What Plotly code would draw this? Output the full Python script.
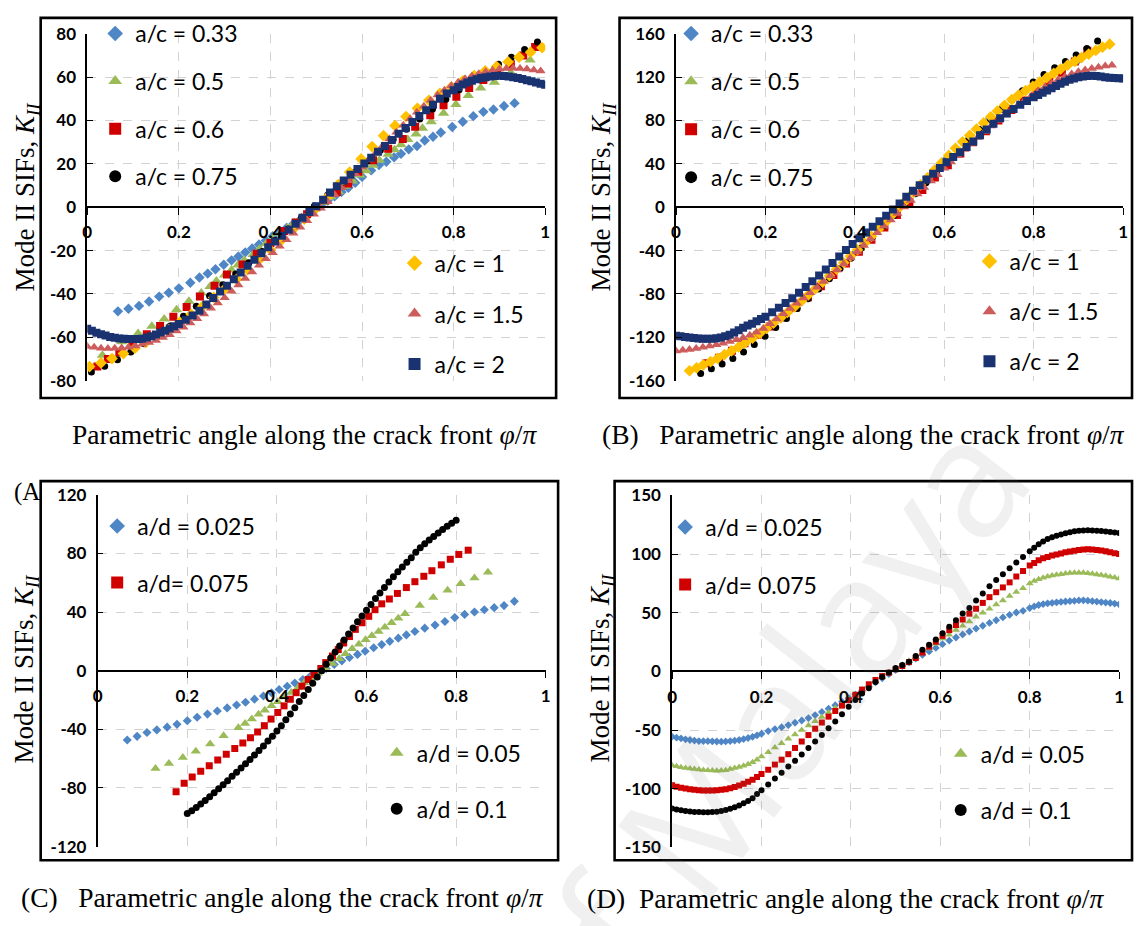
import plotly.graph_objects as go

W, H = 1139, 926

# ---------------------------------------------------------------- data
# shared abscissae (phi/pi)
X_FINE = [0, 0.01, 0.02, 0.03, 0.04, 0.05, 0.06, 0.07, 0.08, 0.09, 0.1, 0.11, 0.12, 0.13, 0.14, 0.15, 0.16, 0.17, 0.18, 0.19, 0.2,
          0.215, 0.23, 0.245, 0.26, 0.275, 0.29, 0.305, 0.32, 0.335, 0.35, 0.365, 0.38, 0.395, 0.41, 0.425, 0.44, 0.455, 0.47, 0.485,
          0.5, 0.515, 0.53, 0.545, 0.56, 0.575, 0.59, 0.605, 0.62, 0.635, 0.65, 0.665, 0.68, 0.695, 0.71, 0.725, 0.74, 0.755, 0.77, 0.785,
          0.8, 0.81, 0.82, 0.83, 0.84, 0.85, 0.86, 0.87, 0.88, 0.89, 0.9, 0.91, 0.92, 0.93, 0.94, 0.95, 0.96, 0.97, 0.98, 0.99, 1.0]
X_TRI = [0, 0.015, 0.03, 0.045, 0.06, 0.075, 0.09, 0.105, 0.12, 0.135, 0.15, 0.165, 0.18, 0.195, 0.21, 0.225, 0.24, 0.255, 0.27,
         0.285, 0.3, 0.315, 0.33, 0.345, 0.36, 0.375, 0.39, 0.405, 0.42, 0.435, 0.45, 0.465, 0.48, 0.495, 0.51, 0.525, 0.54, 0.555,
         0.57, 0.585, 0.6, 0.615, 0.63, 0.645, 0.66, 0.675, 0.69, 0.705, 0.72, 0.735, 0.75, 0.765, 0.78, 0.795, 0.81, 0.825, 0.84,
         0.855, 0.87, 0.885, 0.9, 0.915, 0.93, 0.945, 0.96, 0.975, 0.99]

# ---- panel A (a/c) ----
A_X_033 = [0.067, 0.09, 0.113, 0.135, 0.157, 0.178, 0.2, 0.225, 0.245, 0.263, 0.28, 0.298, 0.315, 0.33, 0.345, 0.36, 0.375, 0.39,
           0.405, 0.42, 0.435, 0.45, 0.465, 0.48, 0.495, 0.51, 0.525, 0.54, 0.555, 0.57, 0.585, 0.6, 0.62, 0.637, 0.653, 0.67,
           0.685, 0.702, 0.72, 0.737, 0.755, 0.772, 0.797, 0.82, 0.843, 0.865, 0.887, 0.91, 0.933]
A_Y_033 = [-48, -46.8, -45.5, -43.5, -41.2, -39.4, -37.4, -34.8, -32.4, -30.6, -28.6, -26.5, -24.5, -22.7, -20.8, -19, -17.2, -15.3,
           -13.4, -11.5, -9.6, -7.7, -5.8, -3.9, -1.5, 0.8, 3, 5, 7, 9, 11.3, 14, 17, 19.5, 21, 23,
           24.7, 26.7, 28.2, 30.8, 32.5, 34.5, 37, 39.4, 42, 44, 45.1, 46.7, 48]
A_X_05 = [0.033, 0.075, 0.111, 0.141, 0.168, 0.195, 0.222, 0.249, 0.268, 0.282, 0.3, 0.315, 0.329, 0.343, 0.362, 0.376, 0.391,
          0.405, 0.421, 0.437, 0.452, 0.468, 0.485, 0.5, 0.515, 0.532, 0.548, 0.563, 0.579, 0.595, 0.609, 0.624, 0.638, 0.657,
          0.671, 0.685, 0.7, 0.718, 0.732, 0.751, 0.778, 0.805, 0.832, 0.859, 0.889, 0.925, 0.967]
A_Y_05 = [-68.3, -62, -58.2, -54.9, -51.5, -47.3, -43.4, -39.5, -36.5, -34, -31.3, -28.9, -26.6, -24.4, -21.8, -19.3, -16.7,
          -14.5, -12, -9.6, -7.2, -4.8, -2.4, 0, 2.3, 4.8, 7.3, 9.7, 12.1, 14.9, 16.8, 19.4, 21.7, 24.4,
          26.5, 28.8, 31.2, 33.8, 36.4, 39.4, 43.3, 47.4, 51.5, 55, 57.6, 62, 67.9]
A_X_06 = [0.022, 0.045, 0.07, 0.1, 0.13, 0.159, 0.188, 0.217, 0.246, 0.278, 0.305, 0.339, 0.37, 0.4, 0.43, 0.455, 0.48, 0.5,
          0.52, 0.545, 0.57, 0.592, 0.624, 0.657, 0.689, 0.716, 0.749, 0.778, 0.806, 0.834, 0.865, 0.895, 0.925, 0.952, 0.978]
A_Y_06 = [-73.5, -70, -67, -62.5, -58.6, -54.8, -50.5, -46, -41.2, -36.2, -31, -26.4, -21.5, -16.5, -11, -7, -3.2, 0,
          3.2, 7, 11, 16.4, 21.7, 27, 31.5, 37.1, 42.4, 47, 51, 55, 58.7, 62.5, 66, 70, 73.9]
A_X_075 = [0.009, 0.038, 0.066, 0.095, 0.124, 0.152, 0.181, 0.21, 0.238, 0.267, 0.296, 0.324, 0.353, 0.382, 0.41, 0.439, 0.468,
           0.496, 0.525, 0.554, 0.582, 0.611, 0.64, 0.668, 0.697, 0.726, 0.754, 0.783, 0.812, 0.84, 0.869, 0.898, 0.926, 0.955, 0.983]
A_Y_075 = [-76, -73.3, -70.3, -66.8, -63, -59, -54.8, -50.3, -45.6, -40.8, -35.8, -30.8, -25.6, -20.4, -15.2, -10, -4.6,
           0.6, 5.7, 10.9, 16, 21.2, 26.3, 31.2, 36, 40.7, 45.3, 49.8, 54.2, 58.3, 62.2, 65.9, 69.2, 72.7, 76.2]
A_X_1 = [0.005, 0.03, 0.054, 0.079, 0.104, 0.128, 0.153, 0.178, 0.202, 0.227, 0.252, 0.276, 0.301, 0.326, 0.35, 0.375, 0.4,
         0.425, 0.449, 0.474, 0.499, 0.524, 0.548, 0.573, 0.598, 0.622, 0.647, 0.672, 0.696, 0.721, 0.746, 0.77, 0.795, 0.82,
         0.845, 0.869, 0.894, 0.919, 0.943, 0.968, 0.993]
A_Y_1 = [-73.5, -71.8, -69.8, -67.5, -65, -62.3, -59.4, -56.3, -53, -49.4, -45.6, -41.6, -37.5, -33.2, -28.8, -24.3, -19.7,
         -15, -10.3, -5.5, -0.7, 4.6, 10.5, 16.2, 22.3, 28, 33, 37.6, 41.8, 45.6, 49.3, 52.5, 55.5, 58.3,
         60.7, 62.9, 64.9, 67, 69.2, 71.5, 73.6]
A_Y_15 = [-64.2, -64.6, -65, -65.1, -65, -64.9, -64.6, -64, -63.2, -62.4, -61.4, -60.1, -58.8, -57.1, -55.3, -53.4, -51.4, -49.2,
          -46.6, -44.2, -41.7, -38.7, -35.9, -32.9, -29.9, -26.7, -23.7, -21, -18, -15, -12, -9.2, -6.2, -3.2, -0.5, 2.5, 5.8,
          9, 12.2, 15.4, 18.6, 21.8, 25, 28.2, 31.5, 34.6, 37.8, 40.8, 43.8, 46.6, 49.3, 51.8, 54, 56, 57.7, 59.2, 60.5, 61.6,
          62.5, 63.2, 63.7, 64, 64.1, 64, 63.7, 63.3, 62.8]
A_Y_2 = [-56, -57, -57.9, -58.6, -59.2, -59.8, -60.2, -60.5, -60.7, -60.8, -60.8, -60.8, -60.6, -60.1, -59.5, -58.7, -57.8, -56.9, -55.9, -54.9, -53.8,
         -51.9, -49.9, -47.7, -44.8, -41.8, -38.9, -36.2, -33.2, -30.1, -27, -24.2, -21.2, -18.4, -15.8, -13.1, -10.4, -7.6, -4.9, -2.2,
         0.5, 3.4, 6.8, 9.7, 12.3, 15, 17.6, 20.2, 22.8, 25.6, 28.3, 31, 33.9, 36.6, 39.3, 42.1, 44.7, 47.3, 50, 52.4,
         54, 55.4, 56.6, 57.5, 58.3, 59, 59.6, 60, 60.3, 60.5, 60.6, 60.5, 60.3, 60, 59.6, 59.1, 58.6, 58.1, 57.5, 57, 56.5]

# ---- panel B (a/c) ----
B_X_033 = [0.1, 0.2, 0.3, 0.4, 0.5, 0.6, 0.7, 0.8, 0.9]
B_Y_033 = [-137.5, -112.5, -79.5, -41.5, 0, 43.5, 82, 112, 135]
B_X_05 = [0.15, 0.25, 0.35, 0.45, 0.55, 0.65, 0.75, 0.85]
B_Y_05 = [-126.2, -96.7, -60.6, -21.5, 21.9, 63.5, 99, 124.7]
B_X_06 = [0.068, 0.096, 0.125, 0.153, 0.182, 0.21, 0.238, 0.267, 0.295, 0.324, 0.352, 0.38, 0.409, 0.437, 0.466, 0.494,
          0.522, 0.551, 0.579, 0.608, 0.636, 0.664, 0.693, 0.721, 0.75, 0.778, 0.806, 0.835, 0.863, 0.892, 0.92]
B_Y_06 = [-143.8, -138.8, -132.3, -125.5, -117.8, -110, -101.7, -92.6, -83, -72.8, -62.5, -52, -41, -30, -18.6, -7.2,
          4.5, 16, 27.5, 38.8, 49.6, 60, 70.2, 80, 89.6, 98.5, 107, 115.5, 124, 134.5, 144.4]
B_X_075 = [0.055, 0.079, 0.103, 0.127, 0.151, 0.175, 0.199, 0.223, 0.247, 0.271, 0.295, 0.319, 0.343, 0.367, 0.391, 0.415,
           0.439, 0.463, 0.487, 0.511, 0.535, 0.559, 0.583, 0.607, 0.631, 0.655, 0.679, 0.703, 0.727, 0.751, 0.775, 0.799,
           0.823, 0.847, 0.871, 0.895, 0.919, 0.943]
B_Y_075 = [-153.4, -148.9, -144.5, -139.5, -133.5, -126.5, -119, -111, -102.5, -93.5, -84.5, -75.5, -66, -56.5, -47, -37.3,
           -27.5, -17.5, -7.5, 2.5, 12.5, 22.6, 32.5, 42.5, 52.3, 62, 71.6, 81, 90.2, 99, 107.5, 115.5,
           122.5, 128.6, 134.5, 140.5, 146.5, 153.4]
B_X_1 = [0.03, 0.046, 0.061, 0.077, 0.093, 0.108, 0.124, 0.14, 0.155, 0.171, 0.187, 0.202, 0.218, 0.234, 0.249, 0.265, 0.281,
         0.296, 0.312, 0.328, 0.343, 0.359, 0.375, 0.39, 0.406, 0.422, 0.437, 0.453, 0.469, 0.484, 0.5, 0.516, 0.531, 0.547,
         0.563, 0.578, 0.594, 0.61, 0.625, 0.641, 0.657, 0.672, 0.688, 0.704, 0.719, 0.735, 0.751, 0.766, 0.782, 0.798, 0.813,
         0.829, 0.845, 0.86, 0.876, 0.892, 0.907, 0.923, 0.939, 0.954, 0.97]
B_Y_1 = [-150.8, -148.1, -145.3, -142.4, -139.3, -136, -132.5, -128.8, -125, -120.8, -116.4, -111.8, -107, -102, -97, -91.8, -86.4,
         -80.8, -75, -69, -63.2, -57.2, -51.2, -45.2, -39.2, -33, -26.8, -20.3, -13.6, -6.8, 0, 6.8, 13.7, 20.6,
         27.4, 34.2, 41, 47.8, 54.3, 60.3, 66.3, 72, 77.8, 83.4, 88.7, 94, 99.3, 103.5, 107.6, 111.5, 115.4,
         119.5, 123.5, 127.3, 131, 134.6, 138, 141.3, 144.6, 147.6, 150.4]
B_X_15 = X_TRI[:66]
B_Y_15 = [-132.5, -132, -131.2, -130.3, -129.2, -128, -126.8, -125.4, -123.9, -122.2, -120.3, -118, -115.3, -111.8, -107.5, -103,
          -98.3, -93.5, -88.6, -83.7, -78.8, -73.7, -68.5, -63.2, -57.8, -52.3, -46.7, -41, -35.2, -29.4, -23.6, -17.6, -11.7,
          -5.7, 0.3, 6.2, 12.2, 18.2, 24.1, 30, 35.9, 41.7, 47.5, 53.2, 58.8, 64.3, 69.7, 75, 80.1, 85, 89.8, 94.4, 98.7,
          102.8, 107.2, 110.8, 114.3, 117.5, 120.4, 122.9, 125, 126.6, 128, 129.2, 130.2, 131]
B_Y_2 = [-118.5, -119, -119.6, -120.1, -120.6, -121, -121.3, -121.4, -121.3, -120.9, -120.2, -119, -117.5, -115.6, -113.5, -111.2, -109.1, -107.5, -105.2, -103, -101,
         -96.8, -92.6, -88.4, -83.9, -78.8, -73.5, -68.2, -63, -57.4, -51.5, -45.5, -39.5, -34, -28.6, -23.3, -18, -13, -7.8, -2,
         3.4, 9.6, 15.2, 20.4, 25.5, 30.8, 36.2, 41.5, 46.3, 50.8, 55.5, 60.7, 66.4, 71.7, 76.9, 82, 86.4, 90.6, 94.5, 98.1,
         101.5, 103.6, 105.6, 107.6, 109.7, 111.8, 113.8, 115.8, 117.5, 118.8, 119.8, 120.5, 121, 121.2, 121.1, 120.6, 119.9, 119.4, 119.1, 118.9, 118.7]

# ---- panel C (a/d) ----
C_X_0025 = [0.066, 0.088, 0.11, 0.132, 0.155, 0.177, 0.2, 0.222, 0.245, 0.267, 0.289, 0.31, 0.33, 0.35, 0.37, 0.388, 0.405,
            0.423, 0.44, 0.458, 0.475, 0.492, 0.51, 0.528, 0.545, 0.562, 0.58, 0.597, 0.616, 0.634, 0.652, 0.671, 0.689, 0.708,
            0.73, 0.753, 0.775, 0.797, 0.819, 0.841, 0.863, 0.885, 0.907, 0.93]
C_Y_0025 = [-47.3, -44.8, -42.2, -40.4, -38.5, -36.6, -34.2, -31.8, -29.6, -27.5, -25.4, -23.4, -21.5, -19.4, -17.3, -15, -12.8,
            -10.6, -8.4, -6, -3.7, -1.5, 1.5, 4.2, 6.7, 9, 11.1, 13.3, 15.6, 17.8, 20, 22.2, 24.4, 26.7,
            29, 31.1, 33.6, 36.2, 38.4, 40, 41.6, 43, 44.4, 47.3]
C_X_005 = [0.129, 0.159, 0.19, 0.219, 0.251, 0.281, 0.314, 0.329, 0.344, 0.359, 0.373, 0.388, 0.402, 0.417, 0.432, 0.447, 0.461,
           0.476, 0.491, 0.509, 0.524, 0.539, 0.553, 0.568, 0.583, 0.598, 0.612, 0.627, 0.641, 0.656, 0.671, 0.686, 0.719, 0.749,
           0.781, 0.81, 0.841, 0.871]
C_Y_005 = [-66.7, -63.3, -59.3, -54.9, -50, -44.4, -39, -36, -33, -29.8, -27, -24, -21.2, -18, -14.8, -11.6, -8.3,
           -5, -1.8, 1.5, 4.9, 8.2, 11.5, 14.9, 18, 21.1, 23.9, 26.7, 29.7, 32.7, 35.8, 38.9, 44.4, 50,
           54.9, 59.3, 63.3, 67.1]
C_X_0075 = [0.175, 0.193, 0.211, 0.23, 0.249, 0.268, 0.287, 0.306, 0.324, 0.341, 0.357, 0.372, 0.387, 0.402, 0.416, 0.43, 0.443,
            0.456, 0.47, 0.483, 0.498, 0.509, 0.524, 0.537, 0.549, 0.562, 0.575, 0.59, 0.605, 0.619, 0.634, 0.651, 0.669, 0.689,
            0.708, 0.728, 0.746, 0.767, 0.787, 0.806, 0.827]
C_Y_0075 = [-82.5, -76.8, -72.5, -68.6, -64.8, -61, -57, -53, -49.3, -45.8, -41.8, -37.5, -33, -28.5, -24, -19.5, -15,
            -10.5, -6, -2.5, 1.5, 5.5, 10, 14.4, 18.9, 23.3, 28.2, 32.7, 37.1, 41.6, 45.6, 48.9, 52.7, 56.7,
            60.7, 64.4, 68.2, 72.2, 76, 79.3, 82.2]
C_X_01 = [0.2, 0.21, 0.22, 0.23, 0.24, 0.25, 0.26, 0.27, 0.28, 0.29, 0.3, 0.31, 0.32, 0.33, 0.34, 0.35, 0.36, 0.37, 0.38, 0.39,
          0.4, 0.41, 0.42, 0.43, 0.44, 0.45, 0.46, 0.47, 0.48, 0.49, 0.5, 0.51, 0.52, 0.53, 0.54, 0.55, 0.56, 0.57, 0.58, 0.59,
          0.6, 0.61, 0.62, 0.63, 0.64, 0.65, 0.66, 0.67, 0.68, 0.69, 0.7, 0.71, 0.72, 0.73, 0.74, 0.75, 0.76, 0.77, 0.78, 0.79, 0.8]
C_Y_01 = [-97.5, -95.5, -93.3, -91, -88.6, -86, -83.3, -80.6, -77.8, -75, -72, -69.2, -66.3, -63.5, -60.5, -57.5, -54.5, -51.3,
          -48, -44.7, -41.2, -37.5, -33.5, -29.5, -25.3, -21.1, -17, -12.9, -8.6, -4.3, 0, 4.4, 8.6, 12.7, 16.8, 20.9, 25, 29.2,
          33.3, 37.3, 41.2, 45.2, 49.2, 53, 56.8, 60.5, 64, 67.5, 70.8, 74, 77, 80.8, 83.8, 86.6, 89.2, 91.6, 94, 96.3,
          98.5, 100.6, 102.6]

# ---- panel D (a/d) ----
D_Y_0025 = [-55.7, -56.5, -57.2, -57.9, -58.5, -59, -59.4, -59.5, -59.5, -59.6, -59.8, -59.9, -59.7, -59.4, -59, -58.5, -57.7, -56.8, -55.8, -54.5, -53.2,
            -50.9, -49.2, -47.6, -45.8, -43.8, -41.9, -39.8, -37.3, -34.6, -31.8, -28.9, -25.9, -22.8, -19.6, -16.3, -12.9, -9.4, -5.9, -2.4,
            1.1, 4.5, 7.7, 10.9, 14, 17, 20, 23.2, 26.3, 28.9, 31.5, 34, 36.5, 38.9, 41.3, 43.6, 46, 48.2, 50.2, 51.6,
            54, 55.4, 56.6, 57.4, 58, 58.4, 58.9, 59.2, 59.6, 59.9, 60.2, 60.5, 60.6, 60.3, 59.9, 59.5, 59.1, 58.7, 58.3, 57.8, 57.2]
D_Y_005 = [-80, -81, -81.8, -82.4, -82.9, -83.3, -83.7, -84.1, -84.4, -84.6, -84.7, -84.6, -84.2, -83.3, -82.4, -81.5, -80.5, -79.2, -77.4, -75.3, -72.5,
           -69, -65, -61.2, -57.5, -53.8, -50, -46.2, -42.5, -38.8, -35, -31.2, -27.5, -23.8, -20, -16.2, -12.5, -8.8, -5, -1.3,
           2.2, 5.6, 8.9, 12.2, 15.6, 19.5, 23.5, 28, 31.3, 35.2, 38.9, 42.5, 46.6, 49.9, 53.4, 57, 60.5, 64.2, 67.7, 70.8,
           75, 77, 78.5, 79.8, 80.9, 81.8, 82.4, 82.9, 83.4, 83.8, 84.2, 84.2, 84, 83.6, 83.2, 82.6, 82.1, 81.5, 80.7, 80, 79.2]
D_Y_0075 = [-97.2, -98.3, -99.2, -99.9, -100.5, -101, -101.3, -101.5, -101.6, -101.5, -101.4, -101, -100.4, -99.6, -98.6, -97.4, -95.9, -94.2, -92.3, -90, -87.5,
            -83.8, -79.5, -75.3, -70.6, -65.3, -59.8, -54.3, -48.9, -43.6, -38.6, -33.8, -29.2, -24.6, -20, -15.5, -11, -7.3, -4, -1.1,
            1.8, 4.6, 7.9, 11.4, 16.1, 21.1, 25.3, 30.3, 35.2, 39.5, 44.2, 49.2, 53.4, 58.4, 63.3, 67.5, 71.6, 75.9, 80.9, 85.5,
            90.3, 92.5, 94.7, 96.4, 97.6, 98.7, 99.7, 100.6, 101.5, 102.2, 102.8, 103.4, 103.9, 104.2, 104, 103.6, 103, 102.4, 101.6, 100.8, 100]
D_Y_01 = [-117, -117.8, -118.5, -119, -119.5, -119.8, -120, -120.2, -120.2, -120, -119.6, -119, -118.2, -117.2, -115.8, -114.3, -112.5, -110.5, -108.2, -104.5, -101.3,
          -96.5, -91.4, -86.4, -81.1, -76.3, -70.9, -65.3, -59.8, -54.3, -48.4, -42.8, -36.5, -30.2, -24.5, -18.9, -14.3, -9, -4.7, -0.9,
          2.9, 5.5, 8.2, 13.2, 18.4, 22.8, 27.2, 32.6, 38.1, 43.7, 49.3, 54, 60.5, 66.5, 72.5, 77.9, 82.9, 87.9, 92.9, 97.5,
          102.5, 105.5, 108.5, 110.8, 112.8, 114.4, 115.6, 116.8, 117.8, 118.7, 119.4, 119.9, 120.2, 120.3, 120.2, 120, 119.6, 119.2, 118.8, 118.4, 118]

X_TICKS = [0, 0.2, 0.4, 0.6, 0.8, 1]
X_TICKTEXT = ["0", "0.2", "0.4", "0.6", "0.8", "1"]
Y_TICKS_A = [-80, -60, -40, -20, 0, 20, 40, 60, 80]
Y_TICKS_B = [-160, -120, -80, -40, 0, 40, 80, 120, 160]
Y_TICKS_C = [-120, -80, -40, 0, 40, 80, 120]
Y_TICKS_D = [-150, -100, -50, 0, 50, 100, 150]

# ---------------------------------------------------------------- styles
BLUE, GREEN, RED, BLACK = "#4F86C6", "#9BBB59", "#D00000", "#000000"
GOLD, PINK, NAVY = "#FFC000", "#CD5C5C", "#1A3370"

fig = go.Figure()


def add(xs, ys, name, symbol, color, size, ax, leg):
    assert len(xs) == len(ys), (name, len(xs), len(ys))
    fig.add_trace(go.Scatter(
        x=xs, y=ys, mode="markers", name=name,
        marker=dict(symbol=symbol, color=color, size=size, line=dict(width=0)),
        xaxis="x" + ax, yaxis="y" + ax, legend=leg, legendgroup=leg + name,
        showlegend=True, hoverinfo="skip"))


# panel A
add(A_X_033, A_Y_033, "a/c = 0.33", "diamond", BLUE, 8, "", "legend")
add(A_X_05, A_Y_05, "a/c = 0.5", "triangle-up", GREEN, 10, "", "legend")
add(A_X_06, A_Y_06, "a/c = 0.6", "square", RED, 8, "", "legend")
add(A_X_075, A_Y_075, "a/c = 0.75", "circle", BLACK, 7, "", "legend")
add(A_X_1, A_Y_1, "a/c = 1", "diamond", GOLD, 9, "", "legend2")
add(X_TRI, A_Y_15, "a/c = 1.5", "triangle-up", PINK, 9, "", "legend2")
add(X_FINE, A_Y_2, "a/c = 2", "square", NAVY, 8, "", "legend2")
# panel B
add(B_X_033, B_Y_033, "a/c = 0.33", "diamond", BLUE, 6, "2", "legend3")
add(B_X_05, B_Y_05, "a/c = 0.5", "triangle-up", GREEN, 6, "2", "legend3")
add(B_X_06, B_Y_06, "a/c = 0.6", "square", RED, 8, "2", "legend3")
add(B_X_075, B_Y_075, "a/c = 0.75", "circle", BLACK, 7, "2", "legend3")
add(B_X_1, B_Y_1, "a/c = 1", "diamond", GOLD, 9, "2", "legend4")
add(B_X_15, B_Y_15, "a/c = 1.5", "triangle-up", PINK, 9, "2", "legend4")
add(X_FINE, B_Y_2, "a/c = 2", "square", NAVY, 8, "2", "legend4")
# panel C
add(C_X_0025, C_Y_0025, "a/d = 0.025", "diamond", BLUE, 7, "3", "legend5")
add(C_X_005, C_Y_005, "a/d = 0.05", "triangle-up", GREEN, 9, "3", "legend6")
add(C_X_0075, C_Y_0075, "a/d= 0.075", "square", RED, 7, "3", "legend5")
add(C_X_01, C_Y_01, "a/d = 0.1", "circle", BLACK, 7, "3", "legend6")
# panel D
add(X_FINE, D_Y_0025, "a/d = 0.025", "diamond", BLUE, 6, "4", "legend7")
add(X_FINE, D_Y_005, "a/d = 0.05", "triangle-up", GREEN, 7, "4", "legend8")
add(X_FINE, D_Y_0075, "a/d= 0.075", "square", RED, 6, "4", "legend7")
add(X_FINE, D_Y_01, "a/d = 0.1", "circle", BLACK, 6, "4", "legend8")

# ---------------------------------------------------------------- layout
TICKFONT = dict(family="Lato", size=17, color="black", weight="bold")
GRID = "#d2d2d2"

# plot-area pixel boxes: (left, right, top, bottom)
PANELS = {
    "": (83, 545, 23.3, 378.3, Y_TICKS_A),
    "2": (677, 1128, 23.3, 378.3, Y_TICKS_B),
    "3": (93.5, 545.5, 495, 855, Y_TICKS_C),
    "4": (673, 1124, 495.7, 855.7, Y_TICKS_D),
}

layout = dict(width=W, height=H, autosize=False, margin=dict(l=0, r=0, t=0, b=0),
              paper_bgcolor="white", plot_bgcolor="white", hovermode=False)

for key, (l, r, t, b, yt) in PANELS.items():
    zero_py = (t + b) / 2
    layout["xaxis" + key] = dict(
        domain=[l / W, r / W], range=[0, 1], anchor="free", position=1 - zero_py / H,
        showline=True, linecolor="black", linewidth=1.6, ticks="outside", ticklen=7, tickwidth=1.3,
        tickcolor="black", tickvals=X_TICKS, ticktext=X_TICKTEXT, tickfont=TICKFONT, ticklabelstandoff=3,
        showgrid=True, gridcolor=GRID, griddash="dash", gridwidth=1, zeroline=False, fixedrange=True)
    layout["yaxis" + key] = dict(
        domain=[1 - b / H, 1 - t / H], range=[yt[0], yt[-1]], anchor="x" + key,
        showline=True, linecolor="black", linewidth=1.6, ticks="inside", ticklen=6, tickwidth=1.3,
        tickcolor="black", tickvals=yt, ticktext=[str(v) for v in yt], tickfont=TICKFONT, ticklabelstandoff=6,
        showgrid=True, gridcolor=GRID, griddash="dash", gridwidth=1, zeroline=False, fixedrange=True)


def legend_at(left, top, gap):
    return dict(x=left / W, y=1 - top / H, xanchor="left", yanchor="top", bgcolor="rgba(0,0,0,0)",
                borderwidth=0, font=dict(family="Lato", size=23, color="black"), tracegroupgap=gap,
                itemsizing="constant", traceorder="grouped")


layout["legend"] = legend_at(91, 1, 14.7)
layout["legend2"] = legend_at(393, 236, 17.6)
layout["legend3"] = legend_at(672, 1, 15)
layout["legend4"] = legend_at(973, 234, 17.2)
layout["legend5"] = legend_at(93, 505, 23.7)
layout["legend6"] = legend_at(375, 737, 23)
layout["legend7"] = legend_at(666, 506, 24.7)
layout["legend8"] = legend_at(944, 738, 23.5)

# frames round each panel
FRAMES = [(36, 7, 556, 396), (620, 7, 1137, 396), (36, 481, 558, 869), (615, 481, 1137, 869)]
layout["shapes"] = [dict(type="rect", xref="paper", yref="paper", x0=x0 / W, x1=x1 / W, y0=1 - y1 / H, y1=1 - y0 / H,
                         line=dict(color="black", width=2.6), fillcolor="rgba(0,0,0,0)", layer="above")
                    for (x0, y0, x1, y1) in FRAMES]

SERIF = "Liberation Serif"
YTITLE = "Mode II SIFs, <i>K<sub>II</sub></i>"
XTITLE = "Parametric angle along the crack front <i>φ</i>/<i>π</i>"
SP = "\u00a0\u00a0\u00a0"
ann = []


def note(text, px, py, size, angle=0, xanchor="center", color="black", family=SERIF):
    ann.append(dict(text=text, x=px / W, y=1 - py / H, xref="paper", yref="paper", showarrow=False,
                    xanchor=xanchor, yanchor="middle", textangle=angle,
                    font=dict(family=family, size=size, color=color)))


# watermark
note("of Malaya", 760, 740, 165, angle=-52, color="rgba(110,110,110,0.10)", family="Open Sans")
for (px, py) in [(22, 190), (603, 190), (21, 673), (602, 672)]:
    note(YTITLE, px, py, 27, angle=-90)
note(XTITLE, 302, 433, 27.5)
note("(B)" + SP + XTITLE, 866, 433, 27.5)
note("(C)" + SP + XTITLE, 280, 907, 27.5)
note("(D)\u00a0\u00a0" + XTITLE, 848, 908, 27.5)
note("(A", 37, 492, 25, xanchor="right")
layout["annotations"] = ann

fig.update_layout(**layout)
fig.write_html("out.html")
